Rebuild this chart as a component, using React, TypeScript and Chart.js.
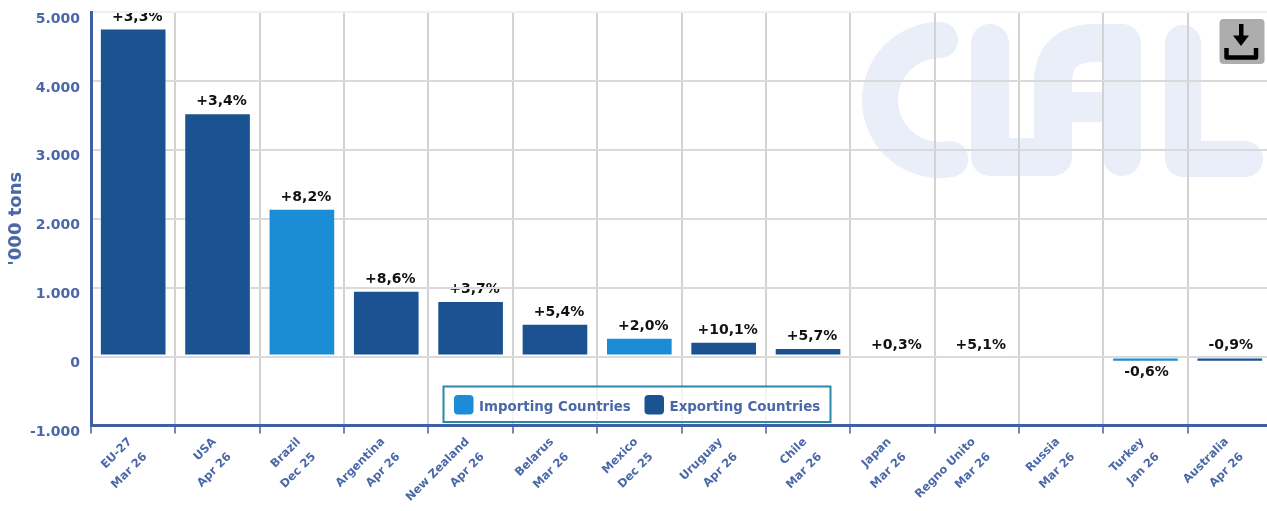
import React, { useEffect, useRef } from "react";
import { Chart, registerables } from "chart.js";

Chart.register(...registerables);

const countries = ["EU-27", "USA", "Brazil", "Argentina", "New Zealand", "Belarus", "Mexico", "Uruguay", "Chile", "Japan", "Regno Unito", "Russia", "Turkey", "Australia"];
const periods = ["Mar 26", "Apr 26", "Dec 25", "Apr 26", "Apr 26", "Mar 26", "Dec 25", "Apr 26", "Mar 26", "Mar 26", "Mar 26", "Mar 26", "Jan 26", "Apr 26"];
const importing = [null, null, 2145, null, null, null, 275, null, null, null, null, null, -75, null];
const exporting = [4760, 3530, null, 957, 805, 478, null, 217, 123, 2, 1, null, null, -75];
const changes = ["+3,3%", "+3,4%", "+8,2%", "+8,6%", "+3,7%", "+5,4%", "+2,0%", "+10,1%", "+5,7%", "+0,3%", "+5,1%", "", "-0,6%", "-0,9%"];

const FONT = '"DejaVu Sans"';
const AXIS_BLUE = "#3f5fa3";
const TEXT_BLUE = "#4a68a8";
const LIGHT = "#1a8dd6";
const DARK = "#1b5292";

const watermark = {
  id: "watermark",
  beforeDraw(chart: any) {
    const c = chart.ctx;
    c.save();
    c.strokeStyle = "#e9eef8";
    c.lineCap = "round";
    c.lineJoin = "round";
    c.lineWidth = 36;
    c.beginPath();
    c.arc(940, 100, 60, -Math.PI / 2, (80 * Math.PI) / 180, true);
    c.stroke();
    c.lineWidth = 38;
    c.beginPath();
    c.moveTo(990, 43);
    c.lineTo(990, 157);
    c.lineTo(1053, 157);
    c.lineTo(1053, 80);
    c.quadraticCurveTo(1055, 43, 1095, 43);
    c.lineTo(1122, 43);
    c.lineTo(1122, 157);
    c.stroke();
    c.lineWidth = 30;
    c.lineCap = "butt";
    c.beginPath();
    c.moveTo(1053, 107);
    c.lineTo(1122, 107);
    c.stroke();
    c.lineCap = "round";
    c.lineWidth = 36;
    c.beginPath();
    c.moveTo(1183, 43);
    c.lineTo(1183, 159);
    c.lineTo(1245, 159);
    c.stroke();
    c.restore();
  },
};

const changeLabels = {
  id: "changeLabels",
  beforeDraw(chart: any) {
    const c = chart.ctx;
    const { x, y } = chart.scales;
    const area = chart.chartArea;
    c.save();
    c.beginPath();
    c.rect(area.left, area.top, area.right - area.left, area.bottom - area.top);
    c.clip();
    c.font = `bold 14px ${FONT}`;
    c.fillStyle = "#111111";
    c.textAlign = "center";
    c.textBaseline = "middle";
    changes.forEach((text, i) => {
      if (!text) return;
      const isImport = importing[i] != null;
      const v = (isImport ? importing[i] : exporting[i]) as number;
      const below = v < 0 && isImport;
      const py = below ? y.getPixelForValue(v) + 11 : y.getPixelForValue(Math.max(v, 0)) - 11.5;
      const shift = text[0] === "+" ? 4 : 1;
      c.fillText(text, x.getPixelForTick(i) + shift, py);
    });
    c.restore();
  },
};

const boxLegend = {
  id: "boxLegend",
  afterDatasetsDraw(chart: any) {
    const c = chart.ctx;
    const [a, b] = chart.data.datasets;
    c.save();
    c.fillStyle = "rgba(255,255,255,0.75)";
    c.fillRect(443.5, 386.5, 387, 35.5);
    c.strokeStyle = "#2a87a8";
    c.lineWidth = 2;
    c.strokeRect(443.5, 386.5, 387, 35.5);
    c.font = `bold 13.4px ${FONT}`;
    c.textBaseline = "middle";
    c.textAlign = "left";
    [[a, 454, 479], [b, 644.5, 669.5]].forEach(([ds, sx, tx]: any) => {
      c.fillStyle = ds.backgroundColor;
      c.beginPath();
      c.roundRect(sx, 395, 19.5, 19.5, 4);
      c.fill();
      c.fillStyle = TEXT_BLUE;
      c.fillText(ds.label, tx, 407.5);
    });
    c.restore();
  },
};

const downloadIcon = {
  id: "downloadIcon",
  afterDraw(chart: any) {
    const c = chart.ctx;
    c.save();
    c.fillStyle = "#adadad";
    c.beginPath();
    c.roundRect(1219.5, 19, 45, 45, 4);
    c.fill();
    c.fillStyle = "#000000";
    c.fillRect(1239, 24, 4.5, 13);
    c.beginPath();
    c.moveTo(1233, 35.5);
    c.lineTo(1249, 35.5);
    c.lineTo(1241, 46);
    c.closePath();
    c.fill();
    c.strokeStyle = "#000000";
    c.lineWidth = 4.5;
    c.lineJoin = "round";
    c.beginPath();
    c.moveTo(1226.5, 48);
    c.lineTo(1226.5, 57.5);
    c.lineTo(1256, 57.5);
    c.lineTo(1256, 48);
    c.stroke();
    c.restore();
  },
};

export default function App() {
  const ref = useRef<HTMLCanvasElement>(null);
  useEffect(() => {
    const chart = new Chart(ref.current as HTMLCanvasElement, {
      type: "bar",
      data: {
        labels: countries.map((n, i) => [n, periods[i]]),
        datasets: [
          { label: "Importing Countries", data: importing, backgroundColor: LIGHT, borderColor: "rgba(255,255,255,0.4)", borderWidth: 1, borderSkipped: false },
          { label: "Exporting Countries", data: exporting, backgroundColor: DARK, borderColor: "rgba(255,255,255,0.4)", borderWidth: 1, borderSkipped: false },
        ],
      } as any,
      options: {
        responsive: false,
        animation: false,
        devicePixelRatio: 1,
        layout: { padding: { top: 12, right: 0, left: 0, bottom: 0 } },
        datasets: { bar: { barPercentage: 0.79, categoryPercentage: 1 } },
        plugins: { legend: { display: false }, tooltip: { enabled: false } },
        scales: {
          x: {
            stacked: true,
            afterFit(s: any) { s.height = 85.5; s.paddingLeft = 0; s.paddingRight = 0; },
            border: { color: AXIS_BLUE, width: 3 },
            grid: { color: "#d2d2d2", lineWidth: 2, tickColor: AXIS_BLUE, tickLength: 8, tickWidth: 1.5 },
            ticks: {
              autoSkip: false,
              maxRotation: 45,
              minRotation: 45,
              padding: -1,
              labelOffset: -3,
              color: TEXT_BLUE,
              font: { family: FONT, size: 11.5, weight: "bold", lineHeight: 1.85 },
            },
          },
          y: {
            stacked: true,
            min: -1000,
            max: 5000,
            afterFit(s: any) { s.width = 91; s.paddingTop = 0; s.paddingBottom = 0; },
            border: { color: AXIS_BLUE, width: 3 },
            grid: {
              drawTicks: false,
              lineWidth: 2,
              color: (ctx: any) => (ctx.tick && ctx.tick.value === 5000 ? "#f0f0f0" : "#dadada"),
            },
            title: {
              display: true,
              text: "'000 tons",
              color: TEXT_BLUE,
              padding: { top: 6, bottom: 0 },
              font: { family: FONT, size: 18, weight: "bold" },
            },
            ticks: {
              stepSize: 1000,
              padding: 11,
              color: TEXT_BLUE,
              font: { family: FONT, size: 14, weight: "bold", lineHeight: 1 },
              callback: (v: any) => ["", String(v).replace(/(\d)(\d{3})$/, "$1.$2")],
            },
          },
        },
      } as any,
      plugins: [watermark, changeLabels, boxLegend, downloadIcon],
    });
    return () => chart.destroy();
  }, []);
  return (
    <div style={{ position: "fixed", left: 0, top: 0, width: 1267, height: 511, overflow: "hidden", background: "#fff" }}>
      <canvas ref={ref} width={1272} height={511} style={{ display: "block" }} />
    </div>
  );
}
